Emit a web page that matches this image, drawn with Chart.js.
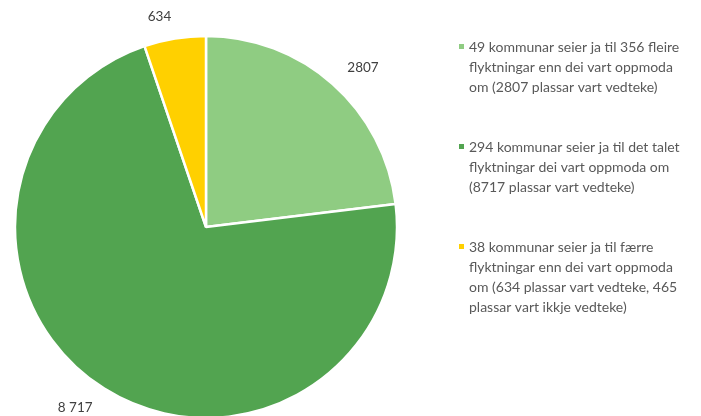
<!DOCTYPE html>
<html>
<head>
<meta charset="utf-8">
<script src="https://cdn.jsdelivr.net/npm/chart.js@4"></script>
<style>
  html, body { margin: 0; padding: 0; background: #fff; }
  #wrap { width: 701px; height: 416px; }
</style>
</head>
<body>
<div id="wrap"><canvas id="pie"></canvas></div>
<script>
const categories = [
  ['49 kommunar seier ja til 356 fleire', 'flyktningar enn dei vart oppmoda', 'om (2807 plassar vart vedteke)'],
  ['294 kommunar seier ja til det talet', 'flyktningar dei vart oppmoda om', '(8717 plassar vart vedteke)'],
  ['38 kommunar seier ja til færre', 'flyktningar enn dei vart oppmoda', 'om (634 plassar vart vedteke, 465', 'plassar vart ikkje vedteke)']
];
const places = [2807, 8717, 634];
const valueLabels = ['2807', '8 717', '634'];
const colors = ['#8fcc82', '#52a450', '#ffd000'];

const FONT = 'Lato, "Open Sans", sans-serif';

// value labels outside each slice plus the legend block on the right
const sideText = {
  id: 'sideText',
  afterDatasetsDraw(chart) {
    const { ctx } = chart;
    const arcs = chart.getDatasetMeta(0).data;
    ctx.save();
    ctx.font = '13.5px ' + FONT;
    ctx.fillStyle = '#404040';
    ctx.textBaseline = 'middle';
    arcs.forEach((arc, i) => {
      const mid = (arc.startAngle + arc.endAngle) / 2;
      const r = arc.outerRadius + 22;
      const dx = Math.cos(mid);
      ctx.textAlign = dx >= 0 ? 'left' : 'right';
      ctx.fillText(valueLabels[i], arc.x + dx * r, arc.y + Math.sin(mid) * r);
    });

    // legend
    const lineH = 20;
    let y = 47;
    ctx.textAlign = 'left';
    ctx.font = '14px ' + FONT;
    categories.forEach((lines, i) => {
      ctx.fillStyle = colors[i];
      ctx.fillRect(459, y - 3, 5, 5);
      ctx.fillStyle = '#595959';
      lines.forEach((line, j) => ctx.fillText(line, 469, y + j * lineH));
      y += lines.length * lineH + 40;
    });
    ctx.restore();
  }
};

new Chart(document.getElementById('pie'), {
  type: 'pie',
  data: {
    labels: categories,
    datasets: [{
      data: places,
      backgroundColor: colors,
      borderColor: '#fff',
      borderWidth: 2.5,
      radius: 191,
      clip: false
    }]
  },
  options: {
    responsive: true,
    maintainAspectRatio: false,
    animation: false,
    layout: { padding: { top: 38, right: 289, bottom: 0, left: 0 } },
    plugins: {
      legend: { display: false },
      tooltip: { enabled: false }
    }
  },
  plugins: [sideText]
});
</script>
</body>
</html>
